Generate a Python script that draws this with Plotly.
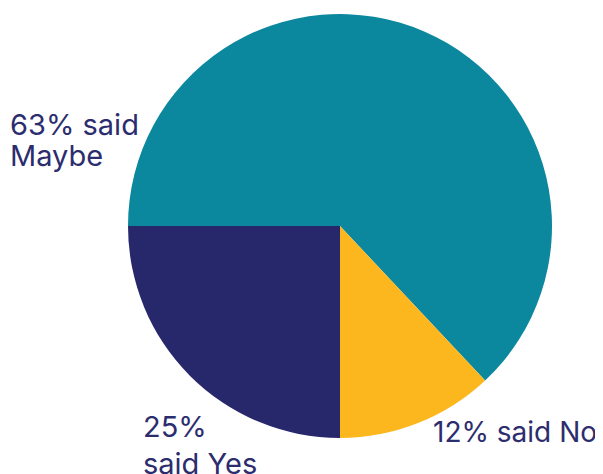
import plotly.graph_objects as go

labels = ["Maybe", "No", "Yes"]
values = [63, 12, 25]
colors = ["#0B879E", "#FDB71E", "#27276B"]

label_lines = [
    ("63% said", 8, 124, 29),
    ("Maybe", 8, 156, 29),
    ("25%", 141, 426, 29),
    ("said Yes", 141, 463, 29),
    ("12% said No", 431, 432, 28),
]

W, H = 603, 474
OFF = 8  # page body margin offset
cx, cy, r = 340 - OFF, 226 - OFF, 212

fig = go.Figure(go.Pie(
    labels=labels,
    values=values,
    marker=dict(colors=colors, line=dict(width=0)),
    sort=False,
    direction="clockwise",
    rotation=270,
    textinfo="none",
    hoverinfo="label+percent",
    showlegend=False,
    domain=dict(x=[(cx - r) / W, (cx + r) / W], y=[1 - (cy + r) / H, 1 - (cy - r) / H]),
))

for txt, px, py, fs in label_lines:
    fig.add_annotation(
        text=txt, x=(px - OFF) / W, y=1 - (py - OFF) / H, xref="paper", yref="paper",
        xanchor="left", yanchor="middle", showarrow=False,
        font=dict(family="Inter", size=fs, color="#2C2D6E"),
    )

fig.update_layout(
    width=W, height=H,
    margin=dict(l=0, r=0, t=0, b=0),
    paper_bgcolor="white",
    plot_bgcolor="white",
)

fig.write_html("out.html")
